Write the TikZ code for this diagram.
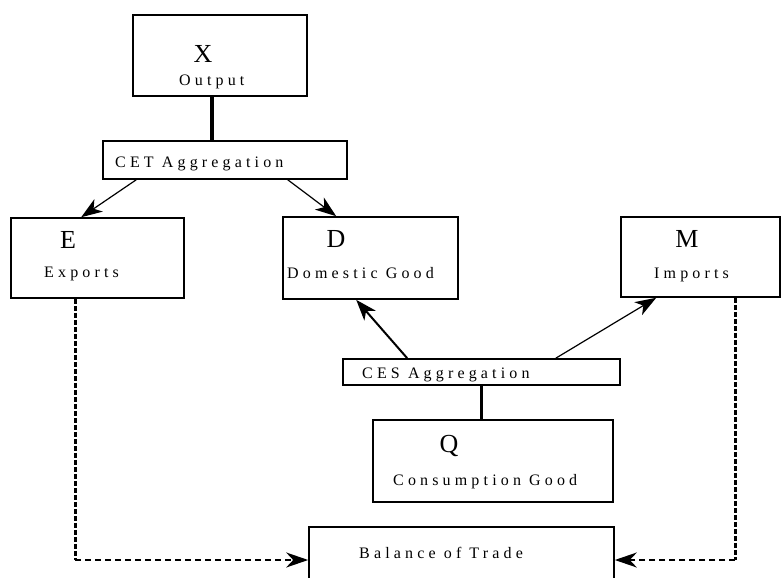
\documentclass[tikz,border=0pt]{standalone}
\usepackage{fontspec}
\setmainfont{Liberation Serif}
\newfontfamily\spacedFont[LetterSpace=26]{Liberation Serif}
\usetikzlibrary{arrows.meta}
\tikzstyle{diagram} = [x = 1pt, y = -1pt]
\tikzstyle{boxStyle} = [draw, line width = 1.6pt, inner sep = 0pt]
\tikzstyle{bigLetter} = [font = \fontsize{26}{27}\selectfont, inner sep = 0pt, anchor = base]
\tikzstyle{boxText} = [font = \spacedFont\fontsize{16}{17}\selectfont, inner sep = 0pt, anchor = base west]
\tikzstyle{linkLine} = [line width = 3.5pt]
\tikzstyle{flowArrow} = [-{Stealth[length = 21pt, width = 15pt, inset = 6pt]}, line width = 1.2pt]
\tikzstyle{tradeDown} = [line width = 3pt, dash pattern = on 5pt off 2pt]
\tikzstyle{tradeArrow} = [-{Stealth[length = 22pt, width = 15pt, inset = 7pt]}, line width = 2pt, dash pattern = on 6pt off 4pt]
\newcommand{\flowBox}[5]{\node [boxStyle, minimum width = #4, minimum height = #5] (#1) at (#2, #3) {};}

\begin{document}
\begin{tikzpicture}[diagram]
  \useasboundingbox (0,0) rectangle (782,578);
  \clip (0,0) rectangle (782,578);

  \flowBox{output}{220}{55.5}{174}{81}
  \flowBox{cet}{225}{160}{244}{38}
  \flowBox{exports}{97.5}{258}{173}{80}
  \flowBox{domestic}{370.5}{258}{175}{82}
  \flowBox{imports}{700.5}{257}{159}{80}
  \flowBox{ces}{481.5}{372}{277}{26}
  \flowBox{consumption}{493}{461}{240}{82}
  \flowBox{balance}{461.5}{560}{305}{66}

  \node [bigLetter] (xLetter) at (203,63) {X};
  \node [boxText] (xText) at (179,85) {Output};
  \node [boxText] (cetText) at (115,167) {CET Aggregation};
  \node [bigLetter] (eLetter) at (68,248) {E};
  \node [boxText] (eText) at (44,277) {Exports};
  \node [bigLetter] (dLetter) at (336,247) {D};
  \node [boxText] (dText) at (287,278) {Domestic Good};
  \node [bigLetter] (mLetter) at (687,247) {M};
  \node [boxText] (mText) at (654,278) {Imports};
  \node [boxText] (cesText) at (362,378) {CES Aggregation};
  \node [bigLetter] (qLetter) at (449,452) {Q};
  \node [boxText] (qText) at (393,485) {Consumption Good};
  \node [boxText] (balanceText) at (359,558) {Balance of Trade};

  % aggregation links
  \draw [linkLine] ([xshift = -8]output.south) -- ([xshift = -8]output.south |- cet.north);
  \draw [linkLine] (ces.south) -- (ces.south |- consumption.north);
  \draw [flowArrow] ([xshift = 34]cet.south west) -- ([xshift = 71]exports.north west);
  \draw [flowArrow] ([xshift = -60]cet.south east) -- ([xshift = 54]domestic.north west);
  \draw [flowArrow, line width = 2pt] ([xshift = 65]ces.north west) -- ([xshift = 74]domestic.south west);
  \draw [flowArrow] ([xshift = -65]ces.north east) -- ([xshift = 36]imports.south west);

  % trade balance
  \coordinate (eCorner) at ([xshift = 65]exports.south west |- balance.west);
  \coordinate (mCorner) at ([xshift = 115]imports.south west |- balance.east);
  \draw [tradeDown] ([xshift = 65]exports.south west) -- (eCorner);
  \draw [tradeArrow] (eCorner) -- (balance.west);
  \draw [tradeDown] ([xshift = 115]imports.south west) -- (mCorner);
  \draw [tradeArrow] (mCorner) -- (balance.east);
\end{tikzpicture}
\end{document}
